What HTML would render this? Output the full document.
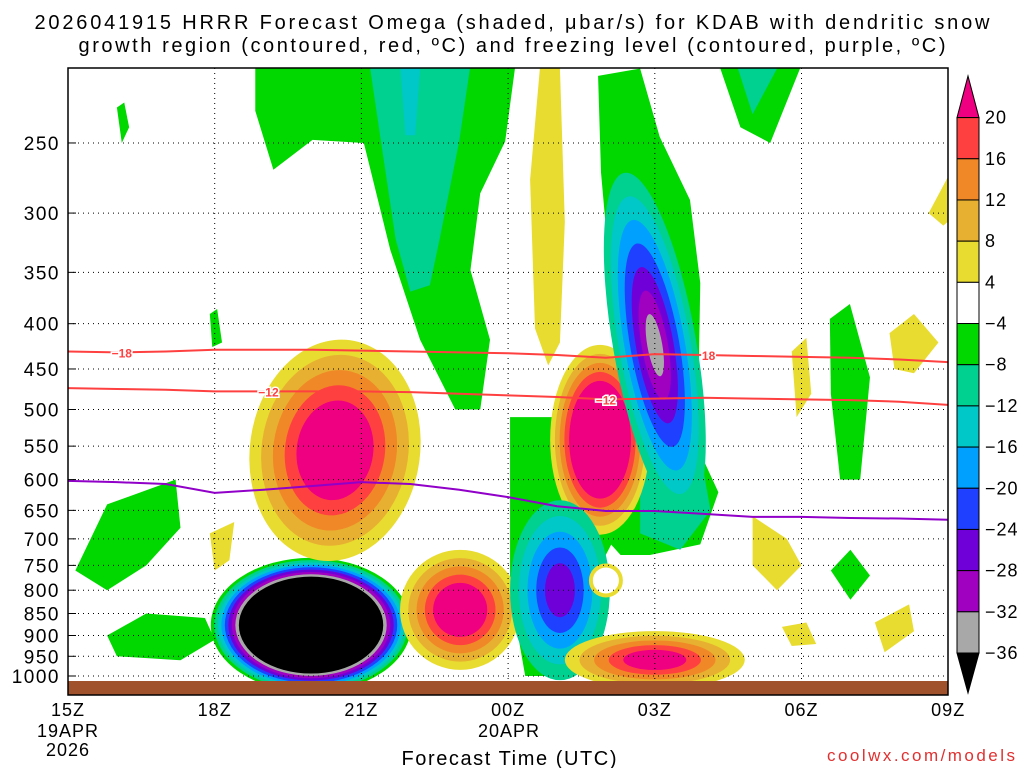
<!DOCTYPE html>
<html><head><meta charset="utf-8"><style>
body{margin:0;background:#fff;width:1024px;height:768px;overflow:hidden;font-family:"Liberation Sans",sans-serif}
svg text{font-family:"Liberation Sans",sans-serif}
</style></head><body>
<svg id="s" width="1024" height="768" xmlns="http://www.w3.org/2000/svg">
<defs><clipPath id="pc"><rect x="68" y="68" width="880" height="613"/></clipPath></defs>
<text x="512" y="29" font-size="20" text-anchor="middle" textLength="955" lengthAdjust="spacing">2026041915 HRRR Forecast Omega (shaded, μbar/s) for KDAB with dendritic snow</text>
<text x="512" y="52" font-size="20" text-anchor="middle" textLength="867" lengthAdjust="spacing">growth region (contoured, red, ºC) and freezing level (contoured, purple, ºC)</text>
<g id="plot" clip-path="url(#pc)"></g>
<g id="over"></g>
</svg>
<script>
const COL={m:'#ee0080',r:'#ff4040',o:'#f08828',dy:'#e8b030',y:'#e8dc30',g:'#00d800',tg:'#00d090',c:'#00c8c8',lb:'#00a0ff',b:'#2040ff',p:'#7000d8',v:'#a000c0',gr:'#a8a8a8',k:'#000000'};
// blobs: [hour, hPa, rxHours, ryLn, coreScale, tiltDeg, colors]
const blobHours=[4.97,5.46,8.02,10.88,12.0,10.06,12.0];
const blobP=[876,556,842,541,423,800,959];
const blobRx=[2.05,1.74,1.23,1.02,0.85,1.02,1.84];
const blobRy=[0.175,0.289,0.156,0.247,0.455,0.234,0.075];
const blobCore=[0.72,0.45,0.45,0.62,0.18,0.3,0.35];
const blobTilt=[0,8,0,0,-10,0,0];
const blobColors=[['g','tg','c','lb','b','p','v','gr','k'],['y','dy','o','r','m'],['y','dy','o','r','m'],['y','dy','o','r','m'],['tg','c','lb','b','p','v','gr'],['tg','c','lb','b','p'],['y','dy','o','r','m']];
// polygon regions (hour, hPa)
const regions=[
 ['g',[[3.83,206],[9.14,206],[8.94,249],[8.43,285],[8.23,348],[8.63,417],[8.43,500],[7.92,500],[7.2,417],[6.59,330],[6.05,250],[5.0,248],[4.2,268],[3.83,230]]],
 ['tg',[[6.18,206],[8.22,206],[8.0,249],[7.6,321],[7.4,362],[7.0,368],[6.7,321],[6.4,249]]],
 ['c',[[6.8,206],[7.2,206],[7.1,245],[6.9,245]]],
 ['y',[[9.65,206],[10.06,206],[10.16,307],[10.06,420],[9.82,446],[9.55,405],[9.45,275]]],
 ['g',[[10.84,210],[11.7,206],[12.1,246],[12.72,290],[12.93,360],[12.89,480],[12.93,560],[13.3,620],[12.93,710],[11.9,730],[11.3,730],[10.9,690],[10.47,600],[10.7,520],[11.5,470],[11.39,410],[11.1,360],[10.9,270]]],
 ['g',[[9.04,510],[10.06,510],[10.88,565],[11.29,680],[10.67,790],[10.06,1000],[9.35,1000],[9.04,800]]],
 ['tg',[[11.7,580],[12.93,560],[13.14,650],[12.52,720],[11.7,690]]],
 ['g',[[13.34,206],[14.97,206],[14.36,250],[13.75,240]]],
 ['tg',[[13.7,206],[14.5,206],[14.0,232]]],
 ['g',[[15.58,395],[15.99,380],[16.4,460],[16.2,600],[15.79,600],[15.6,480]]],
 ['g',[[1.0,228],[1.15,225],[1.25,240],[1.1,250]]],
 ['g',[[2.9,390],[3.05,385],[3.15,420],[2.95,425]]],
 ['g',[[0.15,760],[0.8,640],[2.2,600],[2.3,680],[1.6,750],[0.8,800]]],
 ['g',[[0.8,900],[1.6,850],[2.8,860],[3.0,910],[2.3,960],[1.0,950]]],
 ['y',[[17.6,300],[18.2,260],[18.2,300],[17.9,310]]],
 ['y',[[16.8,410],[17.3,390],[17.8,420],[17.3,455],[16.9,450]]],
 ['y',[[14.8,430],[15.1,415],[15.2,480],[14.9,510]]],
 ['y',[[14.0,660],[14.7,700],[15.0,750],[14.5,800],[14.0,750]]],
 ['y',[[16.5,870],[17.2,830],[17.3,890],[16.7,940]]],
 ['y',[[14.6,880],[15.1,870],[15.3,920],[14.8,925]]],
 ['y',[[2.9,690],[3.4,670],[3.3,740],[3.0,760]]],
 ['g',[[15.6,760],[16.0,720],[16.4,770],[16.0,820]]]
];
// contour lines (hPa at each hour 0..18)
const hoursAxis=[0,1,2,3,4,5,6,7,8,9,10,11,12,13,14,15,16,17,18];
const dgzMinus18=[430,431,430,428,428,428,429,430,431,432,434,437,433,434,435,436,437,439,442];
const dgzMinus12=[473,474,475,477,477,477,477,478,480,482,484,487,486,485,486,487,488,490,494];
const freezing=[602,604,607,621,616,610,604,607,616,628,643,651,651,656,661,661,663,664,666];
const pTicks=[250,300,350,400,450,500,550,600,650,700,750,800,850,900,950,1000];
const xTickHours=[0,3,6,9,12,15,18];
const xTickLabels=['15Z','18Z','21Z','00Z','03Z','06Z','09Z'];
const cbLevels=['20','16','12','8','4','\u22124','\u22128','\u221212','\u221216','\u221220','\u221224','\u221228','\u221232','\u221236'];
const cbColors=['r','o','dy','y','w','g','tg','c','lb','b','p','v','gr'];

const NS='http://www.w3.org/2000/svg';
const X=h=>68+48.9*h;
const Y=p=>676-384.5*Math.log(1000/p);
const plot=document.getElementById('plot'),over=document.getElementById('over');
function mk(t,a,par){const e=document.createElementNS(NS,t);for(const k in a)e.setAttribute(k,a[k]);(par||plot).appendChild(e);return e;}

regions.forEach((r,i)=>{
 const e=mk('polygon',{points:r[1].map(q=>X(q[0])+','+Y(q[1])).join(' '),fill:COL[r[0]]});
 
 
});
blobHours.forEach((h,i)=>{
 const cx=X(h),cy=Y(blobP[i]),rx=blobRx[i]*48.9,ry=blobRy[i]*384.5,n=blobColors[i].length;
 blobColors[i].forEach((c,j)=>{
  const s=n>1?1-j*(1-blobCore[i])/(n-1):1;
  const e=mk('ellipse',{cx:cx,cy:cy,rx:rx*s,ry:ry*s,fill:COL[c],transform:`rotate(${blobTilt[i]} ${cx} ${cy})`});
  
  
 });
});
{const e=mk('circle',{cx:X(11.0),cy:Y(780),r:15,fill:'#fff',stroke:COL.y,'stroke-width':4});

}
pTicks.forEach(p=>{const e=mk('line',{x1:68,x2:948,y1:Y(p),y2:Y(p),stroke:'#000','stroke-width':1,'stroke-dasharray':'1,4'});

});
xTickHours.forEach(h=>{const e=mk('line',{x1:X(h),x2:X(h),y1:68,y2:681,stroke:'#000','stroke-width':1,'stroke-dasharray':'1,4'});

});
function line(arr,col,name){const e=mk('polyline',{points:arr.map((p,i)=>X(hoursAxis[i])+','+Y(p)).join(' '),fill:'none',stroke:col,'stroke-width':2});

}
line(dgzMinus18,'#ff4040','dgz-minus18-contour');
line(dgzMinus12,'#ff4040','dgz-minus12-contour');
line(freezing,'#9000c8','freezing-level-contour');
function clabel(h,arr,txt){const p=arr[Math.round(h)];const x=X(h),y=Y(p);
const t=mk('text',{x:x,y:y+5,'font-size':12,'font-weight':'bold',fill:'#ff4040','text-anchor':'middle',stroke:'#fff','stroke-width':3,'paint-order':'stroke'});t.textContent=txt;

}
clabel(1.1,dgzMinus18,'\u221218');clabel(13.1,dgzMinus18,'18');clabel(4.1,dgzMinus12,'\u221212');clabel(11.0,dgzMinus12,'\u221212');
{const e=mk('rect',{x:68,y:681,width:880,height:14,fill:'#a0522d'},over);

}
{const e=mk('rect',{x:68,y:68,width:880,height:627,fill:'none',stroke:'#000','stroke-width':1.5},over);

}
pTicks.forEach(p=>{const t=mk('text',{x:60,y:Y(p)+7,'font-size':19,'text-anchor':'end','letter-spacing':1.5},over);t.textContent=p;


mk('line',{x1:68,x2:76,y1:Y(p),y2:Y(p),stroke:'#000'},over);});
xTickHours.forEach((h,i)=>{const t=mk('text',{x:X(h),y:716,'font-size':18,'text-anchor':'middle','letter-spacing':1},over);t.textContent=xTickLabels[i];

});
[['19APR',68,737],['2026',68,756],['20APR',509,737]].forEach(a=>{const t=mk('text',{x:a[1],y:a[2],'font-size':18,'text-anchor':'middle','letter-spacing':1},over);t.textContent=a[0];

});
{const t=mk('text',{x:509,y:765,'font-size':20,'text-anchor':'middle',textLength:215,lengthAdjust:'spacing'},over);t.textContent='Forecast Time (UTC)';

}
{const t=mk('text',{x:1015,y:761,'font-size':17,'text-anchor':'end',fill:'#e03030',textLength:188,lengthAdjust:'spacing'},over);t.textContent='coolwx.com/models';

}
const cbTop=117.6,cbH=(653-117.6)/13,cbX=957,cbW=22;
{const e=mk('polygon',{points:`${cbX},${cbTop} ${cbX+cbW},${cbTop} ${cbX+cbW/2},76`,fill:COL.m,stroke:'#000'},over);

}
cbColors.forEach((c,i)=>{const e=mk('rect',{x:cbX,y:cbTop+i*cbH,width:cbW,height:cbH,fill:c==='w'?'#fff':COL[c],stroke:'#000'},over);

});
{const e=mk('polygon',{points:`${cbX},653 ${cbX+cbW},653 ${cbX+cbW/2},693`,fill:'#000',stroke:'#000'},over);

}
cbLevels.forEach((l,i)=>{const t=mk('text',{x:985,y:cbTop+i*cbH+6,'font-size':18,'letter-spacing':1},over);t.textContent=l;

});
</script>
</body></html>
